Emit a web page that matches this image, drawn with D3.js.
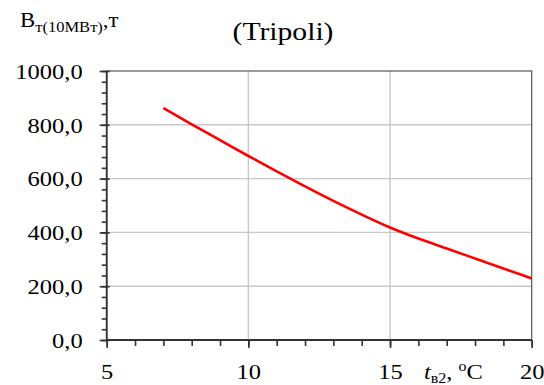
<!DOCTYPE html>
<html><head><meta charset="utf-8">
<script src="https://cdn.jsdelivr.net/npm/d3@7"></script>
<style>body{margin:0;background:#fff}svg text{font-family:"Liberation Serif","Times New Roman",serif !important;fill:#000}</style>
</head><body><svg id="c" width="544" height="385"></svg>
<script>
const temps = [7, 8, 9, 10, 11, 12, 13, 14, 15, 16, 17, 18, 19, 20];
const values = [862, 802, 743, 684, 627, 571, 517, 466, 418, 377, 340, 303, 266, 229];
const xTicks = [5, 10, 15, 20];
const yTicks = [0, 200, 400, 600, 800, 1000];
const title = "(Tripoli)";

const SX = 1.14;
const svg = d3.select("#c");
const L = 106.7, R = 531.7, T = 71, B = 340;
const x = d3.scaleLinear().domain([5, 20]).range([L, R]);
const y = d3.scaleLinear().domain([0, 1000]).range([B, T]);
const fmt = v => d3.format(".1f")(v).replace(".", ",");

// grid
svg.append("g").selectAll("line").data(xTicks.slice(1, -1)).join("line")
  .attr("x1", d => x(d)).attr("x2", d => x(d)).attr("y1", T).attr("y2", B)
  .attr("stroke", "#c8c8c8").attr("stroke-width", 1.4);
svg.append("g").selectAll("line").data(yTicks.slice(1, -1)).join("line")
  .attr("x1", L).attr("x2", R).attr("y1", d => y(d)).attr("y2", d => y(d))
  .attr("stroke", "#c8c8c8").attr("stroke-width", 1.4);

// frame
svg.append("rect").attr("x", L).attr("y", T).attr("width", R - L).attr("height", B - T)
  .attr("fill", "none").attr("stroke", "#555").attr("stroke-width", 1.2);

// y axis minor ticks
const gy = svg.append("g").attr("transform", `translate(${L},0)`);
gy.call(d3.axisLeft(y).tickValues(d3.range(0, 1001, 40)).tickSize(5).tickFormat(""));
gy.select(".domain").remove();
gy.selectAll("line").attr("stroke", "#333").attr("stroke-width", 1.6);
// y axis major
const gyM = svg.append("g").attr("transform", `translate(${L},0)`);
gyM.call(d3.axisLeft(y).tickValues(yTicks).tickSize(7).tickFormat(fmt));
gyM.select(".domain").attr("stroke", "#333").attr("stroke-width", 1.8).attr("d", `M0,${B}V${T}`);
gyM.selectAll(".tick line").attr("stroke", "#333").attr("stroke-width", 1.6).attr("x2", 3).attr("x1", -7);
gyM.selectAll("text").attr("font-size", 21.5).attr("x", 0).attr("dy", "0.34em")
  .attr("text-anchor", "end").attr("transform", `translate(-24,0) scale(${SX},1)`);

// x axis minor
const gx = svg.append("g").attr("transform", `translate(0,${B})`);
gx.call(d3.axisBottom(x).tickValues(d3.range(5, 21, 1)).tickSize(6).tickFormat(""));
gx.select(".domain").remove();
gx.selectAll("line").attr("stroke", "#333").attr("stroke-width", 1.6);
// x axis major
const gxM = svg.append("g").attr("transform", `translate(0,${B})`);
gxM.call(d3.axisBottom(x).tickValues(xTicks).tickSize(8).tickFormat(d => d));
gxM.select(".domain").attr("stroke", "#333").attr("stroke-width", 1.8).attr("d", `M${L},0H${R}`);
gxM.selectAll(".tick line").attr("stroke", "#333").attr("stroke-width", 1.6);
gxM.selectAll("text").attr("font-size", 21.5).attr("y", 0).attr("dy", 0)
  .attr("transform", `translate(0,39) scale(${SX},1)`);

// line
svg.append("path").datum(temps.map((t, i) => [t, values[i]]))
  .attr("fill", "none").attr("stroke", "#ff0000").attr("stroke-width", 2.6)
  .attr("d", d3.line().x(d => x(d[0])).y(d => y(d[1])).curve(d3.curveNatural));

// title
svg.append("text").attr("transform", `translate(283,40) scale(${SX},1)`).attr("text-anchor", "middle")
  .attr("font-size", 26).text(title);

// y label
const yl = svg.append("text").attr("transform", `translate(20,27) scale(${SX},1)`).attr("font-size", 20);
yl.append("tspan").text("B");
yl.append("tspan").attr("font-size", 14.5).attr("dy", 5).text("т(10МВт)");
yl.append("tspan").attr("dy", -5).text(",т");

// x label
const xl = svg.append("text").attr("transform", `translate(424,379) scale(${SX},1)`).attr("font-size", 21.5);
xl.append("tspan").attr("font-style", "italic").text("t");
xl.append("tspan").attr("font-size", 14).attr("dy", 4).text("в2");
xl.append("tspan").attr("dy", -4).text(", ");
xl.append("tspan").attr("font-size", 14).attr("dy", -8).text("o");
xl.append("tspan").attr("dy", 8).text("C");
</script></body></html>
